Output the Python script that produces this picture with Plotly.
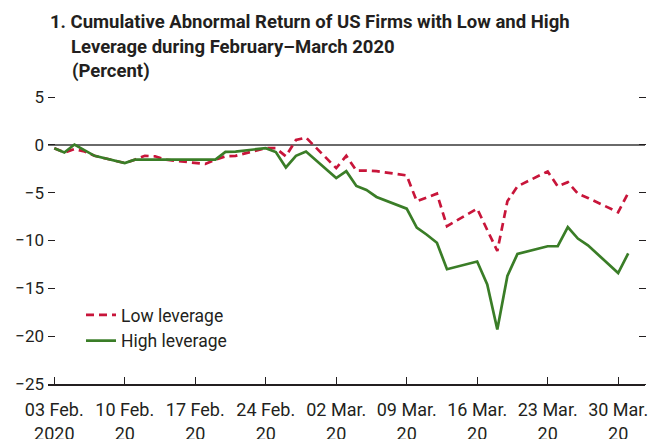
import plotly.graph_objects as go

dates = ["2020-02-03","2020-02-04","2020-02-05","2020-02-06","2020-02-07",
         "2020-02-10","2020-02-11","2020-02-12","2020-02-13","2020-02-14",
         "2020-02-18","2020-02-19","2020-02-20","2020-02-21",
         "2020-02-24","2020-02-25","2020-02-26","2020-02-27","2020-02-28",
         "2020-03-02","2020-03-03","2020-03-04","2020-03-05","2020-03-06",
         "2020-03-09","2020-03-10","2020-03-11","2020-03-12","2020-03-13",
         "2020-03-16","2020-03-17","2020-03-18","2020-03-19","2020-03-20",
         "2020-03-23","2020-03-24","2020-03-25","2020-03-26","2020-03-27",
         "2020-03-30","2020-03-31"]

low_leverage = [-0.35,-0.8,-0.45,-0.7,-1.15,
                -1.9,-1.55,-1.15,-1.2,-1.55,
                -2.0,-1.55,-1.2,-1.15,
                -0.35,-0.35,-1.2,0.5,0.76,
                -2.43,-1.15,-2.7,-2.7,-2.75,
                -3.2,-5.9,-5.5,-5.1,-8.5,
                -6.67,-8.9,-11.1,-5.9,-4.34,
                -2.78,-4.34,-3.9,-5.1,-5.55,
                -7.05,-5.03]

high_leverage = [-0.35,-0.8,0.03,-0.6,-1.15,
                 -1.9,-1.55,-1.55,-1.55,-1.55,
                 -1.55,-1.55,-0.73,-0.7,
                 -0.35,-0.76,-2.36,-1.15,-0.7,
                 -3.47,-2.75,-4.3,-4.72,-5.45,
                 -6.67,-8.65,-9.4,-10.24,-13.0,
                 -12.2,-14.6,-19.3,-13.7,-11.4,
                 -10.6,-10.6,-8.6,-9.8,-10.5,
                 -13.4,-11.35]

tick_dates = ["2020-02-03","2020-02-10","2020-02-17","2020-02-24","2020-03-02",
              "2020-03-09","2020-03-16","2020-03-23","2020-03-30"]
tick_text = ["03 Feb.<br>2020","10 Feb.<br>20","17 Feb.<br>20","24 Feb.<br>20","02 Mar.<br>20",
             "09 Mar.<br>20","16 Mar.<br>20","23 Mar.<br>20","30 Mar.<br>20"]

y_ticks = [5, 0, -5, -10, -15, -20, -25]
y_tick_text = ["5", "0", "−5", "−10", "−15", "−20", "−25"]
y_range = [-25, 5]

title_lines = ["1. Cumulative Abnormal Return of US Firms with Low and High",
               "Leverage during February–March 2020",
               "(Percent)"]

FONT = "Roboto, Liberation Sans, sans-serif"
INK = "#231F20"
RED = "#C8153A"
GREEN = "#3A7D27"

L, R, T, B = 48, 13, 97, 55
W, H = 658, 439
PW, PH = W - L - R, H - T - B
TICKLEN = 7

def px_x(px):
    return (px - L) / PW

def px_y(py):
    return (H - B - py) / PH

fig = go.Figure()
fig.add_trace(go.Scatter(x=dates, y=low_leverage, mode="lines", name="Low leverage",
                         line=dict(color=RED, width=2.7, dash="8px,5px")))
fig.add_trace(go.Scatter(x=dates, y=high_leverage, mode="lines", name="High leverage",
                         line=dict(color=GREEN, width=2.7)))
# empty traces so the two tick-only axes are drawn
fig.add_trace(go.Scatter(x=[], y=[], yaxis="y2", showlegend=False, hoverinfo="skip"))
fig.add_trace(go.Scatter(x=[], y=[], yaxis="y3", showlegend=False, hoverinfo="skip"))

title_pos = [(48, 22), (69, 47), (70, 71)]
annotations = []
for text, (tx, ty) in zip(title_lines, title_pos):
    annotations.append(dict(
        text="<b>" + text + "</b>", xref="paper", yref="paper",
        x=px_x(tx), y=px_y(ty), xanchor="left", yanchor="middle",
        showarrow=False, font=dict(family=FONT, size=18.5, color=INK)))

tick_axis = dict(overlaying="y", anchor="free", range=y_range, tickvals=y_ticks,
                 ticks="outside", ticklen=TICKLEN, tickwidth=1.3, tickcolor=INK,
                 showticklabels=False, showgrid=False, zeroline=False,
                 showline=False, automargin=False)

fig.update_layout(
    width=W, height=H,
    margin=dict(l=L, r=R, t=T, b=B, autoexpand=False),
    paper_bgcolor="white", plot_bgcolor="white",
    font=dict(family=FONT, size=17, color=INK),
    annotations=annotations,
    showlegend=True,
    legend=dict(x=px_x(81), y=px_y(297), xanchor="left", yanchor="top",
                bgcolor="rgba(0,0,0,0)", font=dict(size=17.5, color=INK),
                tracegroupgap=0, itemwidth=30),
    yaxis=dict(
        range=y_range, tickvals=y_ticks, ticktext=y_tick_text,
        ticks="", showline=False,
        showgrid=False, zeroline=True, zerolinecolor="#6a6a6a", zerolinewidth=1.6,
        automargin=False, tickfont=dict(size=17, color=INK), ticklabelstandoff=3,
    ),
    yaxis2=dict(tick_axis, side="left", position=px_x(L + TICKLEN)),
    yaxis3=dict(tick_axis, side="right", position=px_x(W - R - TICKLEN)),
)

fig.update_xaxes(
    type="date",
    range=["2020-02-02 09:00", "2020-04-01 16:00"],
    tickvals=tick_dates, ticktext=tick_text,
    ticks="inside", ticklen=TICKLEN, tickwidth=1.2, tickcolor=INK,
    showline=True, linecolor=INK, linewidth=1.5,
    showgrid=False, zeroline=False, automargin=False,
    tickfont=dict(size=18, color=INK), ticklabelstandoff=9,
)

fig.write_html("out.html", config={"displayModeBar": False},
               post_script="document.body.style.margin='0';document.body.style.overflow='hidden';")
